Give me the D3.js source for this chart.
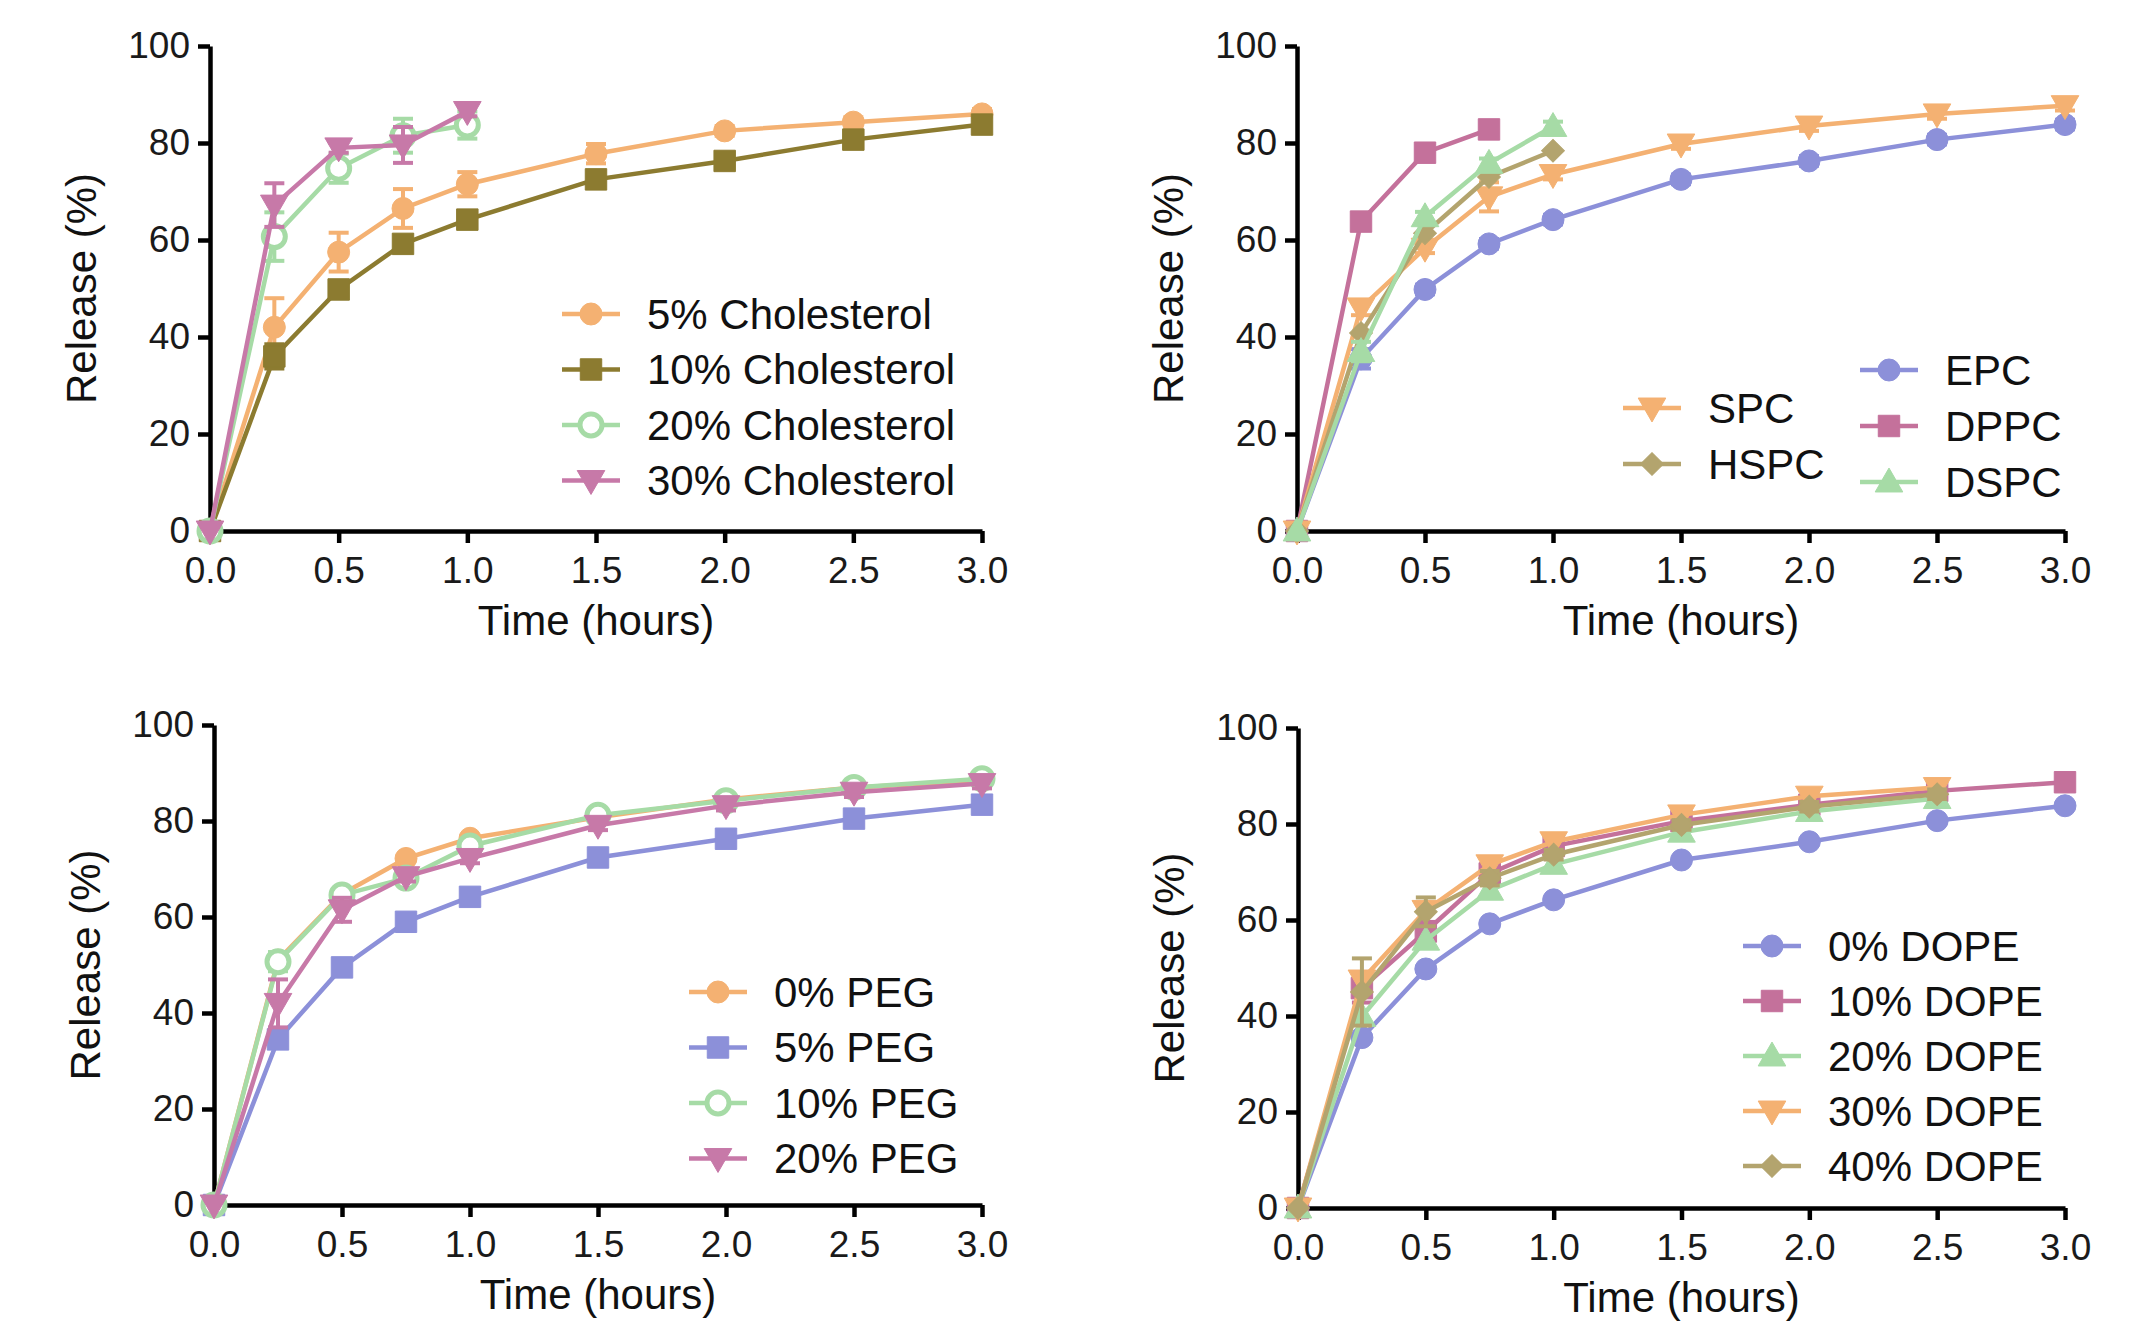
<!DOCTYPE html>
<html>
<head>
<meta charset="utf-8">
<script src="https://cdn.jsdelivr.net/npm/d3@7"></script>
<style>
  body { margin: 0; background: #fff; }
  svg { display: block; font-family: "Liberation Sans", Arial, sans-serif; }
  .axis path, .axis line { stroke: #000; stroke-width: 4.5; }
  .axis text { font-size: 37px; fill: #1a1a1a; }
  .title { font-size: 42px; fill: #111; }
  .legend text { font-size: 42px; fill: #111; }
</style>
</head>
<body>
<svg width="2149" height="1323"></svg>
<script>
// time points (hours)
var times = [0, 0.25, 0.5, 0.75, 1, 1.5, 2, 2.5, 3];
var timesShort = [0, 0.25, 0.5, 0.75, 1];
var timesToDPPC = [0, 0.25, 0.5, 0.75];
var timesTo25 = [0, 0.25, 0.5, 0.75, 1, 1.5, 2, 2.5];
var xTicks = [0, 0.5, 1, 1.5, 2, 2.5, 3];
var yTicks = [0, 20, 40, 60, 80, 100];

// panel A - cholesterol
var chol5 = [0, 42, 57.5, 66.5, 71.5, 77.8, 82.5, 84.3, 86];
var chol5Err = [0, 6, 4, 4, 2.5, 2, 1, 1, 1];
var chol10 = [0, 36, 49.8, 59.2, 64.2, 72.5, 76.3, 80.7, 83.8];
var chol10Err = [0, 2.5, 1.5, 1, 1, 1.5, 1, 1, 1];
var chol20 = [0, 60.7, 74.8, 81.5, 83.7];
var chol20Err = [0, 5, 3, 3.5, 2.8];
var chol30 = [0, 67.2, 79, 79.6, 86.5];
var chol30Err = [0, 4.5, 1, 3.7, 1];

// panel B - lipids
var epc = [0, 35.5, 49.8, 59.2, 64.2, 72.5, 76.3, 80.7, 83.8];
var epcErr = [0, 2, 1, 1, 1, 1, 1, 1, 1];
var dppc = [0, 63.8, 78, 82.8];
var dspc = [0, 37, 64.8, 75.8, 83.4];
var dspcErr = [0, 2, 1, 1, 1];
var hspc = [0, 40.8, 61.4, 73, 78.4];
var spc = [0, 46, 58.3, 68.9, 73.5, 79.8, 83.5, 86, 87.7];
var spcErr = [0, 1.5, 1, 3, 1, 1, 1, 1, 1];

// panel C - PEG
var peg0 = [0, 51, 64.8, 72.2, 76.4, 80.8, 84.5, 87, 88.4];
var peg5 = [0, 34.5, 49.5, 59, 64.2, 72.4, 76.3, 80.5, 83.4];
var peg10 = [0, 50.7, 64.6, 68.1, 74.8, 81.2, 84.2, 87, 88.8];
var peg10Err = [0, 2, 1, 1, 1, 1, 1, 1, 1];
var peg20 = [0, 42, 61.5, 68.4, 72.2, 79.1, 83.2, 86, 87.8];
var peg20Err = [0, 5, 2.5, 1, 1, 1, 1, 1, 1];

// panel D - DOPE
var dope0 = [0, 35.5, 49.8, 59.2, 64.2, 72.5, 76.3, 80.7, 83.8];
var dope10 = [0, 45.8, 57.6, 69.7, 75.4, 80.6, 84, 86.9, 88.7];
var dope10Err = [0, 3, 2, 1, 1, 1, 1, 1, 1];
var dope20 = [0, 39.9, 55.8, 66.2, 71.6, 78.3, 82.6, 85.3];
var dope30 = [0, 47.5, 62, 71.5, 76.3, 81.9, 85.8, 87.6];
var dope40 = [0, 45, 61.7, 68.7, 73.6, 79.8, 83.6, 86.2];
var dope40Err = [0, 7, 3, 1.5, 1, 1, 1, 1, 1];

var orange = "#F4B172", olive = "#8C7B30", green = "#A6DBA6",
    pink = "#C779A8", blue = "#8C90D9", khaki = "#B3A46E", mauve = "#C4719B";

var svg = d3.select("svg");

function sym(shape) {
    if (shape == "circle") return {type: d3.symbolCircle, size: 380, rot: 0};
    if (shape == "square") return {type: d3.symbolSquare, size: 460, rot: 0};
    if (shape == "up") return {type: d3.symbolTriangle, size: 330, rot: 0};
    if (shape == "down") return {type: d3.symbolTriangle, size: 330, rot: 180};
    if (shape == "diamond") return {type: d3.symbolSquare, size: 260, rot: 45};
}

function drawMarker(g, cx, cy, s) {
    var sm = sym(s.shape);
    var dy = (s.shape == "down") ? -2 : (s.shape == "up" ? 2 : 0);
    g.append("path")
        .attr("d", d3.symbol().type(sm.type).size(sm.size)())
        .attr("transform", "translate(" + cx + "," + (cy + dy) + ") rotate(" + sm.rot + ")")
        .attr("fill", s.open ? "#fff" : s.color)
        .attr("stroke", s.color)
        .attr("stroke-width", s.open ? 5 : 1);
}

function panel(p) {
    var x = d3.scaleLinear().domain([0, 3]).range([p.x0, p.x1]);
    var y = d3.scaleLinear().domain([0, 100]).range([p.y0, p.y1]);
    var g = svg.append("g");

    g.append("g")
        .attr("class", "axis")
        .attr("transform", "translate(0," + p.y0 + ")")
        .call(d3.axisBottom(x).tickValues(xTicks).tickFormat(d3.format(".1f"))
            .tickSize(12).tickSizeOuter(0).tickPadding(14));

    g.append("g")
        .attr("class", "axis")
        .attr("transform", "translate(" + p.x0 + ",0)")
        .call(d3.axisLeft(y).tickValues(yTicks).tickSize(12).tickSizeOuter(0).tickPadding(8));

    g.append("text")
        .attr("class", "title")
        .attr("text-anchor", "middle")
        .attr("x", (p.x0 + p.x1) / 2)
        .attr("y", p.y0 + 104)
        .text("Time (hours)");

    g.append("text")
        .attr("class", "title")
        .attr("text-anchor", "middle")
        .attr("transform", "translate(" + (p.x0 - 114) + "," + ((p.y0 + p.y1) / 2) + ") rotate(-90)")
        .text("Release (%)");

    var line = d3.line()
        .x(function(d) { return x(d[0]); })
        .y(function(d) { return y(d[1]); });

    p.series.forEach(function(s) {
        var pts = s.t.map(function(t, i) { return [t, s.v[i], s.e ? s.e[i] : 0]; });
        var sg = g.append("g");
        sg.append("path")
            .datum(pts)
            .attr("d", line)
            .attr("fill", "none")
            .attr("stroke", s.color)
            .attr("stroke-width", 4.5);
        pts.forEach(function(d) {
            if (d[2] > 0) {
                var cx = x(d[0]), top = y(d[1] + d[2]), bot = y(d[1] - d[2]);
                sg.append("line").attr("x1", cx).attr("x2", cx).attr("y1", top).attr("y2", bot)
                    .attr("stroke", s.color).attr("stroke-width", 4);
                [top, bot].forEach(function(yy) {
                    sg.append("line").attr("x1", cx - 10).attr("x2", cx + 10).attr("y1", yy).attr("y2", yy)
                        .attr("stroke", s.color).attr("stroke-width", 4);
                });
            }
            drawMarker(sg, x(d[0]), y(d[1]), s);
        });
    });

    // legend
    var lg = g.append("g").attr("class", "legend");
    p.legend.forEach(function(it) {
        var s = it.s;
        lg.append("line")
            .attr("x1", it.lx).attr("x2", it.lx + 58)
            .attr("y1", it.ly).attr("y2", it.ly)
            .attr("stroke", s.color).attr("stroke-width", 4.5);
        drawMarker(lg, it.lx + 29, it.ly, s);
        lg.append("text")
            .attr("x", it.lx + 85)
            .attr("y", it.ly)
            .attr("dy", "0.35em")
            .text(s.name);
    });
}

// ----- panel A
var sA = [
    {name: "5% Cholesterol", t: times, v: chol5, e: chol5Err, color: orange, shape: "circle"},
    {name: "10% Cholesterol", t: times, v: chol10, e: chol10Err, color: olive, shape: "square"},
    {name: "20% Cholesterol", t: timesShort, v: chol20, e: chol20Err, color: green, shape: "circle", open: true},
    {name: "30% Cholesterol", t: timesShort, v: chol30, e: chol30Err, color: pink, shape: "down"}
];
panel({x0: 210, x1: 982, y0: 531, y1: 46, series: sA,
    legend: sA.map(function(s, i) { return {s: s, lx: 562, ly: 314 + i * 55.5}; })});

// ----- panel B
var sB = {
    epc: {name: "EPC", t: times, v: epc, e: epcErr, color: blue, shape: "circle"},
    dppc: {name: "DPPC", t: timesToDPPC, v: dppc, color: mauve, shape: "square"},
    dspc: {name: "DSPC", t: timesShort, v: dspc, e: dspcErr, color: green, shape: "up"},
    spc: {name: "SPC", t: times, v: spc, e: spcErr, color: orange, shape: "down"},
    hspc: {name: "HSPC", t: timesShort, v: hspc, color: khaki, shape: "diamond"}
};
panel({x0: 1297, x1: 2065, y0: 531, y1: 46,
    series: [sB.epc, sB.dppc, sB.spc, sB.hspc, sB.dspc],
    legend: [
        {s: sB.spc, lx: 1623, ly: 408},
        {s: sB.hspc, lx: 1623, ly: 464},
        {s: sB.epc, lx: 1860, ly: 370},
        {s: sB.dppc, lx: 1860, ly: 426},
        {s: sB.dspc, lx: 1860, ly: 482}
    ]});

// ----- panel C
var sC = [
    {name: "0% PEG", t: times, v: peg0, color: orange, shape: "circle"},
    {name: "5% PEG", t: times, v: peg5, color: blue, shape: "square"},
    {name: "10% PEG", t: times, v: peg10, e: peg10Err, color: green, shape: "circle", open: true},
    {name: "20% PEG", t: times, v: peg20, e: peg20Err, color: pink, shape: "down"}
];
panel({x0: 214, x1: 982, y0: 1205, y1: 725, series: sC,
    legend: sC.map(function(s, i) { return {s: s, lx: 689, ly: 992 + i * 55.5}; })});

// ----- panel D
var sD = [
    {name: "0% DOPE", t: times, v: dope0, color: blue, shape: "circle"},
    {name: "10% DOPE", t: times, v: dope10, e: dope10Err, color: mauve, shape: "square"},
    {name: "20% DOPE", t: timesTo25, v: dope20, color: green, shape: "up"},
    {name: "30% DOPE", t: timesTo25, v: dope30, color: orange, shape: "down"},
    {name: "40% DOPE", t: timesTo25, v: dope40, e: dope40Err, color: khaki, shape: "diamond"}
];
panel({x0: 1298, x1: 2065, y0: 1208, y1: 728, series: sD,
    legend: sD.map(function(s, i) { return {s: s, lx: 1743, ly: 946 + i * 55}; })});
</script>
</body>
</html>
